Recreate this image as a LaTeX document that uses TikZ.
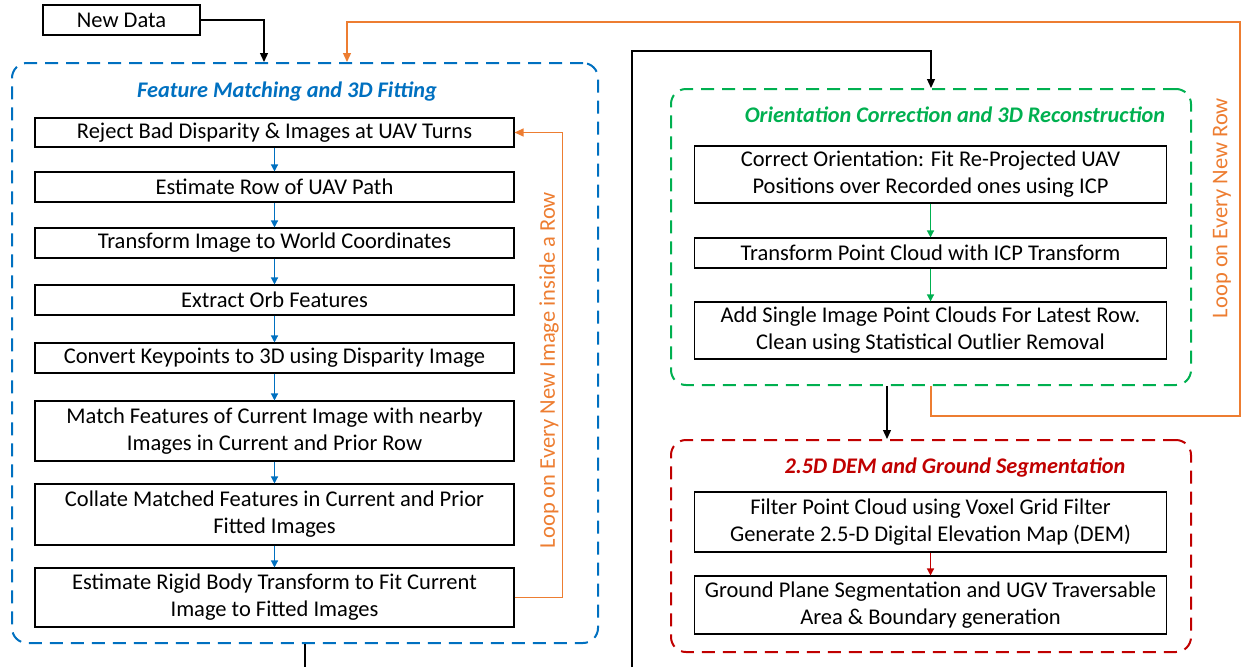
\documentclass[tikz,border=0pt]{standalone}
\usepackage{fontspec}
\setmainfont{Carlito}
\usetikzlibrary{arrows.meta,positioning,calc}
\definecolor{pblue}{RGB}{0,112,192}
\definecolor{pgreen}{RGB}{0,176,80}
\definecolor{pred}{RGB}{192,0,0}
\definecolor{porange}{RGB}{237,125,49}
\tikzset{
  txt/.style={font=\fontsize{22.5}{27}\selectfont},
  box/.style={txt, draw=black, line width=1.1pt, align=center, inner sep=0pt, minimum width=479pt},
  rbox/.style={txt, draw=black, line width=1.1pt, align=center, inner sep=0pt, minimum width=472pt},
  panel/.style={draw, line width=2pt, dash pattern=on 13pt off 8pt, rounded corners=15pt, inner sep=0pt},
  ptitle/.style={font=\fontsize{22.3}{26}\selectfont\bfseries\itshape},
  karrow/.style={draw=black, line width=1.3pt, -{Triangle[length=9pt,width=8pt]}},
  kline/.style={draw=black, line width=1.3pt},
  barrow/.style={draw=pblue, line width=1.3pt, -{Triangle[length=7pt,width=7pt]}},
  garrow/.style={draw=pgreen, line width=1.3pt, -{Triangle[length=7pt,width=7pt]}},
  rarrow/.style={draw=pred, line width=1.3pt, -{Triangle[length=7pt,width=7pt]}},
  oarrow/.style={draw=porange, line width=1.3pt, -{Triangle[length=9pt,width=8pt]}},
  olabel/.style={txt, text=porange, rotate=90},
}
\begin{document}
\begin{tikzpicture}[x=1pt,y=-1pt]
\useasboundingbox (0,0) rectangle (1241,667);

% panels
\node[panel, draw=pblue, minimum width=586pt, minimum height=580pt] (P1) at (305,353) {};
\node[panel, draw=pgreen, minimum width=520pt, minimum height=296pt] (P2) at (931,237) {};
\node[panel, draw=pred, minimum width=520pt, minimum height=212pt] (P3) at (931,546) {};

% titles
\node[ptitle, text=pblue] (T1) at (287,92) {Feature Matching and 3D Fitting};
\node[ptitle, text=pgreen] (T2) at (955,115) {Orientation Correction and 3D Reconstruction};
\node[ptitle, text=pred] (T3) at (955,468) {2.5D DEM and Ground Segmentation};

% new data
\node[txt, draw=black, line width=1.1pt, inner sep=0pt, minimum width=157pt, minimum height=30pt] (nd) at (121.5,20) {New Data};

% left boxes
\node[box, minimum height=29pt] (b1) at (274.5,132.5) {Reject Bad Disparity \& Images at UAV Turns};
\node[box, minimum height=30pt] (b2) at (274.5,187) {Estimate Row of UAV Path};
\node[box, minimum height=30pt] (b3) at (274.5,243) {Transform Image to World Coordinates};
\node[box, minimum height=30pt] (b4) at (274.5,300) {Extract Orb Features};
\node[box, minimum height=30pt] (b5) at (274.5,358) {Convert Keypoints to 3D using Disparity Image};
\node[box, minimum height=60pt] (b6) at (274.5,431) {Match Features of Current Image with nearby\\Images in Current and Prior Row};
\node[box, minimum height=61pt] (b7) at (274.5,514.5) {Collate Matched Features in Current and Prior\\Fitted Images};
\node[box, minimum height=59pt] (b8) at (274.5,597.5) {Estimate Rigid Body Transform to Fit Current\\Image to Fitted Images};

\draw[barrow] (b1) -- (b2);
\draw[barrow] (b2) -- (b3);
\draw[barrow] (b3) -- (b4);
\draw[barrow] (b4) -- (b5);
\draw[barrow] (b5) -- (b6);
\draw[barrow] (b6) -- (b7);
\draw[barrow] (b7) -- (b8);

% inner loop
\draw[oarrow] (b8.east) -- ++(48,0) |- (b1.east);
\node[olabel] (L1) at (549,370) {Loop on Every New Image inside a Row};

% green boxes
\node[rbox, minimum height=57pt] (g1) at (930.5,174.5) {Correct Orientation: Fit Re-Projected UAV\\Positions over Recorded ones using ICP};
\node[rbox, minimum height=30pt] (g2) at (930.5,253) {Transform Point Cloud with ICP Transform};
\node[rbox, minimum height=57pt] (g3) at (930.5,330.5) {Add Single Image Point Clouds For Latest Row.\\Clean using Statistical Outlier Removal};
\draw[garrow] (g1) -- (g2);
\draw[garrow] (g2) -- (g3);

% red boxes
\node[rbox, minimum height=60pt] (r1) at (930.5,522) {Filter Point Cloud using Voxel Grid Filter\\Generate 2.5-D Digital Elevation Map (DEM)};
\node[rbox, minimum height=58pt] (r2) at (930.5,605) {Ground Plane Segmentation and UGV Traversable\\Area \& Boundary generation};
\draw[rarrow] (r1) -- (r2);

% black connectors
\draw[karrow] (nd.east) -| ([xshift=253pt]P1.north west);
\coordinate (lout) at (305,667);
\draw[kline] (P1.south) -- (lout);
\coordinate (rin) at (632,667);
\draw[karrow] (rin) |- ([yshift=37pt]P2.north) -- (P2.north);
\draw[karrow] ([xshift=-44pt]P2.south) -- ([xshift=-44pt]P3.north);

% outer loop
\draw[oarrow] (P2.south) -- ++(0,30) -| (1240,22) -| ([xshift=336pt]P1.north west);
\node[olabel] (L2) at (1222,208) {Loop on Every New Row};
\end{tikzpicture}
\end{document}
